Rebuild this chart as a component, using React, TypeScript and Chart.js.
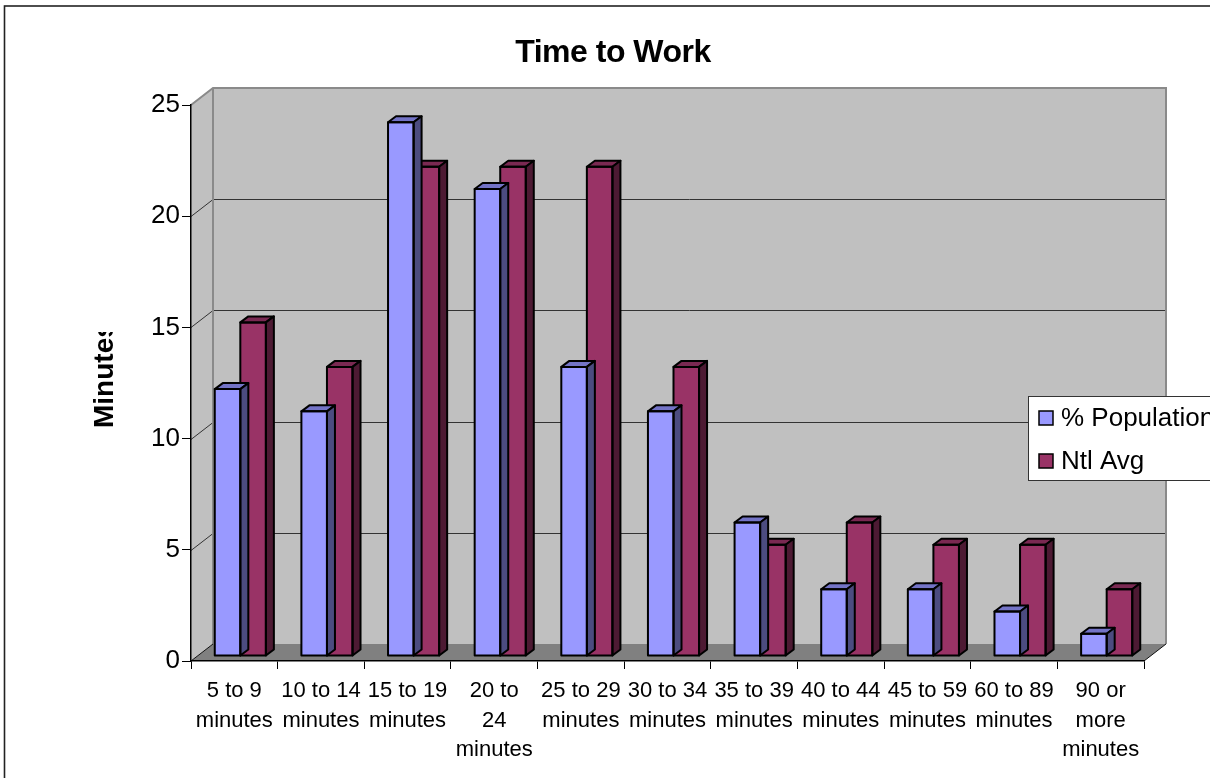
import React, { useEffect, useRef } from "react";
import { Chart, registerables } from "chart.js";

Chart.register(...registerables);

const categories: string[][] = [
  ["5 to 9", "minutes"],
  ["10 to 14", "minutes"],
  ["15 to 19", "minutes"],
  ["20 to", "24", "minutes"],
  ["25 to 29", "minutes"],
  ["30 to 34", "minutes"],
  ["35 to 39", "minutes"],
  ["40 to 44", "minutes"],
  ["45 to 59", "minutes"],
  ["60 to 89", "minutes"],
  ["90 or", "more", "minutes"],
];
const populationPct = [12, 11, 24, 21, 13, 11, 6, 3, 3, 2, 1];
const nationalAvg = [15, 13, 22, 22, 22, 13, 5, 6, 5, 5, 3];
const seriesNames = ["% Population", "Ntl Avg"];
const yMax = 25;
const yStep = 5;
const chartTitle = "Time to Work";
const yTitle = "Minutes";

const W = 1210;
const H = 778;
const FONT = "'Liberation Sans', Arial, sans-serif";
const DEPTH = { x: 22, y: -17 };
const BAR_SHIFT = { x: 6, y: -5 };
const BAR_DEPTH = { x: 8, y: -6 };
const faces = [
  { front: "#9999FF", top: "#7373C6", side: "#4C4C80" },
  { front: "#993366", top: "#7A2952", side: "#4D1A33" },
];

const threeD = {
  id: "threeD",
  beforeDraw(chart: any) {
    const { ctx, chartArea: a, scales } = chart;
    const y = scales.y;
    ctx.save();
    ctx.strokeStyle = "#222";
    ctx.lineWidth = 1.6;
    ctx.strokeRect(4.5, 6, W + 50, H + 50);
    const bl = a.left + DEPTH.x;
    const br = a.right + DEPTH.x;
    const bt = a.top + DEPTH.y;
    const bb = a.bottom + DEPTH.y;
    ctx.fillStyle = "#C0C0C0";
    ctx.beginPath();
    ctx.moveTo(a.left, a.top);
    ctx.lineTo(bl, bt);
    ctx.lineTo(bl, bb);
    ctx.lineTo(a.left, a.bottom);
    ctx.closePath();
    ctx.fill();
    ctx.fillRect(bl, bt, br - bl, bb - bt);
    ctx.fillStyle = "#808080";
    ctx.beginPath();
    ctx.moveTo(a.left, a.bottom);
    ctx.lineTo(bl, bb);
    ctx.lineTo(br, bb);
    ctx.lineTo(a.right, a.bottom);
    ctx.closePath();
    ctx.fill();
    ctx.strokeStyle = "#333";
    ctx.lineWidth = 1;
    for (let v = yStep; v < yMax; v += yStep) {
      const py = Math.round(y.getPixelForValue(v)) + 0.5;
      ctx.beginPath();
      ctx.moveTo(a.left, py);
      ctx.lineTo(bl, py + DEPTH.y);
      ctx.lineTo(br, py + DEPTH.y);
      ctx.stroke();
    }
    ctx.strokeStyle = "#8A8A8A";
    ctx.lineWidth = 2;
    ctx.beginPath();
    ctx.moveTo(a.left, a.top);
    ctx.lineTo(bl, bt);
    ctx.lineTo(br, bt);
    ctx.lineTo(br, bb);
    ctx.stroke();
    ctx.beginPath();
    ctx.moveTo(bl, bt);
    ctx.lineTo(bl, bb);
    ctx.stroke();
    ctx.strokeStyle = "#111";
    ctx.lineWidth = 1;
    ctx.beginPath();
    ctx.moveTo(a.right, a.bottom);
    ctx.lineTo(br, bb);
    ctx.stroke();
    ctx.beginPath();
    ctx.moveTo(a.left, a.bottom);
    ctx.lineTo(bl, bb);
    ctx.stroke();
    ctx.restore();
  },
  beforeDatasetsDraw(chart: any) {
    chart.ctx.save();
    chart.ctx.translate(BAR_SHIFT.x, BAR_SHIFT.y);
  },
  afterDatasetDraw(chart: any, args: any) {
    const ctx = chart.ctx;
    const f = faces[args.index];
    ctx.save();
    ctx.strokeStyle = "#000";
    ctx.lineWidth = 2;
    ctx.lineJoin = "round";
    for (const el of args.meta.data) {
      const { x, y, base, width } = el.getProps(["x", "y", "base", "width"], true);
      const l = x - width / 2;
      const r = x + width / 2;
      ctx.fillStyle = f.top;
      ctx.beginPath();
      ctx.moveTo(l, y);
      ctx.lineTo(l + BAR_DEPTH.x, y + BAR_DEPTH.y);
      ctx.lineTo(r + BAR_DEPTH.x, y + BAR_DEPTH.y);
      ctx.lineTo(r, y);
      ctx.closePath();
      ctx.fill();
      ctx.stroke();
      ctx.fillStyle = f.side;
      ctx.beginPath();
      ctx.moveTo(r, y);
      ctx.lineTo(r + BAR_DEPTH.x, y + BAR_DEPTH.y);
      ctx.lineTo(r + BAR_DEPTH.x, base + BAR_DEPTH.y);
      ctx.lineTo(r, base);
      ctx.closePath();
      ctx.fill();
      ctx.stroke();
      ctx.strokeRect(l, y, width, base - y);
    }
    ctx.restore();
  },
  afterDatasetsDraw(chart: any) {
    chart.ctx.restore();
  },
  afterDraw(chart: any) {
    const ctx = chart.ctx;
    ctx.save();
    ctx.fillStyle = "#000";
    ctx.font = `bold 32px ${FONT}`;
    ctx.textAlign = "center";
    ctx.textBaseline = "alphabetic";
    (ctx as any).letterSpacing = "-0.5px";
    ctx.fillText(chartTitle, 613, 62);
    ctx.save();
    ctx.beginPath();
    ctx.rect(60, 332, 80, 200);
    ctx.clip();
    ctx.translate(113, 428);
    ctx.rotate(-Math.PI / 2);
    ctx.textAlign = "left";
    ctx.font = `bold 28px ${FONT}`;
    (ctx as any).letterSpacing = "0px";
    ctx.fillText(yTitle, 0, 0);
    ctx.restore();
    (ctx as any).letterSpacing = "0px";
    ctx.fillStyle = "#FFF";
    ctx.fillRect(1028, 396, 200, 84);
    ctx.strokeStyle = "#333";
    ctx.lineWidth = 1;
    ctx.strokeRect(1028.5, 396.5, 200, 84);
    ctx.font = `26px ${FONT}`;
    ctx.textAlign = "left";
    ctx.textBaseline = "middle";
    seriesNames.forEach((name, i) => {
      const cy = 418 + i * 43;
      ctx.fillStyle = faces[i].front;
      ctx.fillRect(1039, cy - 7, 14, 14);
      ctx.strokeStyle = "#000";
      ctx.lineWidth = 1.5;
      ctx.strokeRect(1039, cy - 7, 14, 14);
      ctx.fillStyle = "#000";
      ctx.fillText(name, 1061, cy + 1);
    });
    ctx.restore();
  },
};

export default function App() {
  const ref = useRef<HTMLCanvasElement>(null);
  useEffect(() => {
    if (!ref.current) return;
    const chart = new Chart(ref.current, {
      type: "bar",
      data: {
        labels: categories,
        datasets: [populationPct, nationalAvg].map((d, i) => ({
          label: seriesNames[i],
          data: d,
          backgroundColor: faces[i].front,
          borderColor: "#000",
          borderWidth: 0,
          categoryPercentage: 0.59,
          barPercentage: 1,
          clip: false as any,
        })),
      },
      options: {
        animation: false,
        responsive: false,
        events: [],
        layout: { padding: { top: 105, right: 66, left: 0, bottom: 0 } },
        plugins: {
          legend: { display: false },
          title: { display: false },
          tooltip: { enabled: false },
        },
        scales: {
          x: {
            grid: {
              drawOnChartArea: false,
              drawTicks: true,
              tickLength: 8,
              tickColor: "#000",
              offset: true,
            },
            border: { display: true, color: "#000", width: 1.5 },
            ticks: {
              color: "#000",
              padding: 7,
              maxRotation: 0,
              autoSkip: false,
              font: { family: FONT, size: 22, lineHeight: 1.35 },
            },
            afterFit: (s: any) => {
              s.height = 117;
            },
          },
          y: {
            min: 0,
            max: yMax,
            grid: {
              drawOnChartArea: false,
              drawTicks: true,
              tickLength: 9,
              tickColor: "#000",
            },
            border: { display: true, color: "#000", width: 1.5 },
            ticks: {
              stepSize: yStep,
              color: "#000",
              padding: 2,
              font: { family: FONT, size: 26 },
            },
            afterFit: (s: any) => {
              s.width = 191;
            },
          },
        },
      },
      plugins: [threeD],
    });
    return () => chart.destroy();
  }, []);
  return (
    <div style={{ position: "fixed", left: 0, top: 0, width: W, height: H, background: "#fff" }}>
      <canvas ref={ref} width={W} height={H} style={{ display: "block" }} />
    </div>
  );
}
